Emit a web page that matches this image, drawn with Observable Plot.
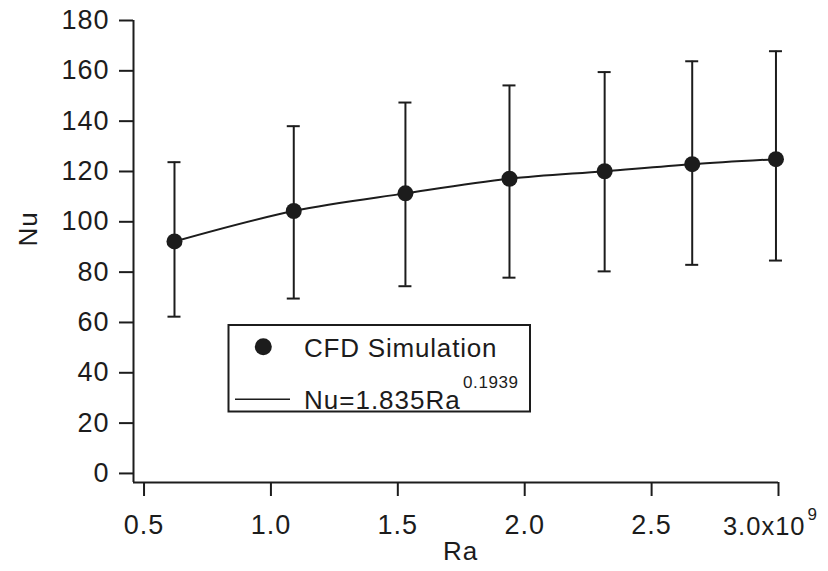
<!DOCTYPE html>
<html><head><meta charset="utf-8">
<script src="https://cdn.jsdelivr.net/npm/d3@7"></script>
<script src="https://cdn.jsdelivr.net/npm/@observablehq/plot@0.6"></script>
<style>
html,body{margin:0;padding:0;background:#fff;}
#chart{width:828px;height:571px;}
</style></head><body><div id="chart"></div>
<script>
// Ra values (x 10^9)
const ra = [0.62, 1.09, 1.53, 1.94, 2.315, 2.66, 2.99];
// CFD simulation Nu (mean) and error-bar limits
const nu = [92.2, 104.3, 111.3, 117.1, 120.1, 122.9, 124.9];
const nuLow = [62.3, 69.5, 74.4, 77.8, 80.3, 82.9, 84.6];
const nuHigh = [123.7, 138, 147.4, 154.2, 159.5, 163.8, 167.8];
// fitted curve Nu = 1.835 Ra^0.1939
const fitRa = [0.62, 1.09, 1.53, 1.94, 2.315, 2.66, 2.99];
const fitNu = [92.2, 104.3, 111.3, 117.1, 120.1, 122.9, 124.9];
const xTicks = [0.5, 1.0, 1.5, 2.0, 2.5, 3.0];
const yTicks = [0, 20, 40, 60, 80, 100, 120, 140, 160, 180];
const xLabel = "Ra";
const yLabel = "Nu";
const lastTickBase = "3.0x10";
const lastTickExp = "9";
const legendDot = "CFD Simulation";
const legendLine = "Nu=1.835Ra";
const legendExp = "0.1939";

const data = ra.map((r, i) => ({ra: r, nu: nu[i], lo: nuLow[i], hi: nuHigh[i]}));
const fit = fitRa.map((r, i) => ({ra: r, nu: fitNu[i]}));

const ink = "#1c1c1c";
const font = "'Liberation Sans', Arial, sans-serif";
const xDomain = [0.4585, 3.0];
const yDomain = [-3.6, 180];

const plot = Plot.plot({
  width: 828, height: 571,
  marginLeft: 133, marginRight: 50, marginTop: 20, marginBottom: 89,
  style: {fontFamily: font, fontSize: "26px", color: ink, background: "#fff", letterSpacing: "1px"},
  x: {domain: xDomain},
  y: {domain: yDomain},
  marks: [
    Plot.ruleX([xDomain[0]], {stroke: ink, strokeWidth: 2}),
    Plot.ruleY([yDomain[0]], {stroke: ink, strokeWidth: 2}),
    Plot.axisX({ticks: xTicks, anchor: "bottom", tickSize: 14, tickPadding: 18, strokeWidth: 2, stroke: ink,
      tickFormat: d => d === 3 ? "" : d.toFixed(1), label: null, fontSize: 26}),
    Plot.axisY({ticks: yTicks, anchor: "left", tickSize: 14, tickPadding: 10, strokeWidth: 2, stroke: ink,
      label: null, fontSize: 26}),
    Plot.text([3], {x: d => d, text: () => lastTickBase, frameAnchor: "bottom", textAnchor: "end", dx: 27, dy: 52, fontSize: 25.5, fill: ink}),
    Plot.text([3], {x: d => d, text: () => lastTickExp, frameAnchor: "bottom", textAnchor: "start", dx: 29, dy: 37, fontSize: 17, fill: ink}),
    Plot.text([xLabel], {text: d => d, frameAnchor: "bottom", dx: 4.5, dy: 77, fontSize: 26, fill: ink}),
    Plot.text([yLabel], {text: d => d, frameAnchor: "left", rotate: -90, dx: -105, dy: -5, fontSize: 26, fill: ink}),
    Plot.ruleX(data, {x: "ra", y1: "lo", y2: "hi", stroke: ink, strokeWidth: 2}),
    Plot.ruleY(data, {x1: "ra", x2: "ra", y: "lo", insetLeft: -6.5, insetRight: -6.5, stroke: ink, strokeWidth: 2}),
    Plot.ruleY(data, {x1: "ra", x2: "ra", y: "hi", insetLeft: -6.5, insetRight: -6.5, stroke: ink, strokeWidth: 2}),
    Plot.line(fit, {x: "ra", y: "nu", stroke: ink, strokeWidth: 2, curve: "monotone-x"}),
    Plot.dot(data, {x: "ra", y: "nu", r: 8, fill: ink, stroke: "none"})
  ]
});

const svg = d3.select(plot);
// enlarge axis tick labels to match the reference
svg.selectAll('g[aria-label$="tick label"]').attr("font-size", 27).style("font-size", "27px");
svg.selectAll('g[aria-label$="tick label"] text').style("font-size", "27px");

// legend box
const lg = svg.append("g").attr("font-family", font).attr("fill", ink).attr("text-anchor", "start");
lg.append("rect").attr("x", 228.5).attr("y", 325).attr("width", 301.5).attr("height", 86.5)
  .attr("fill", "#fff").attr("stroke", ink).attr("stroke-width", 2);
lg.append("circle").attr("cx", 263.3).attr("cy", 346.7).attr("r", 8.5).attr("fill", ink);
lg.append("text").attr("x", 304).attr("y", 357.3).attr("font-size", 26).attr("letter-spacing", "0.8px").text(legendDot);
lg.append("line").attr("x1", 235).attr("x2", 290).attr("y1", 399.3).attr("y2", 399.3)
  .attr("stroke", ink).attr("stroke-width", 1.6);
lg.append("text").attr("x", 304).attr("y", 409.3).attr("font-size", 26).attr("letter-spacing", "1px").text(legendLine);
lg.append("text").attr("x", 463).attr("y", 388.3).attr("font-size", 17).attr("letter-spacing", "0.6px").text(legendExp);

document.getElementById("chart").appendChild(plot);
</script></body></html>
